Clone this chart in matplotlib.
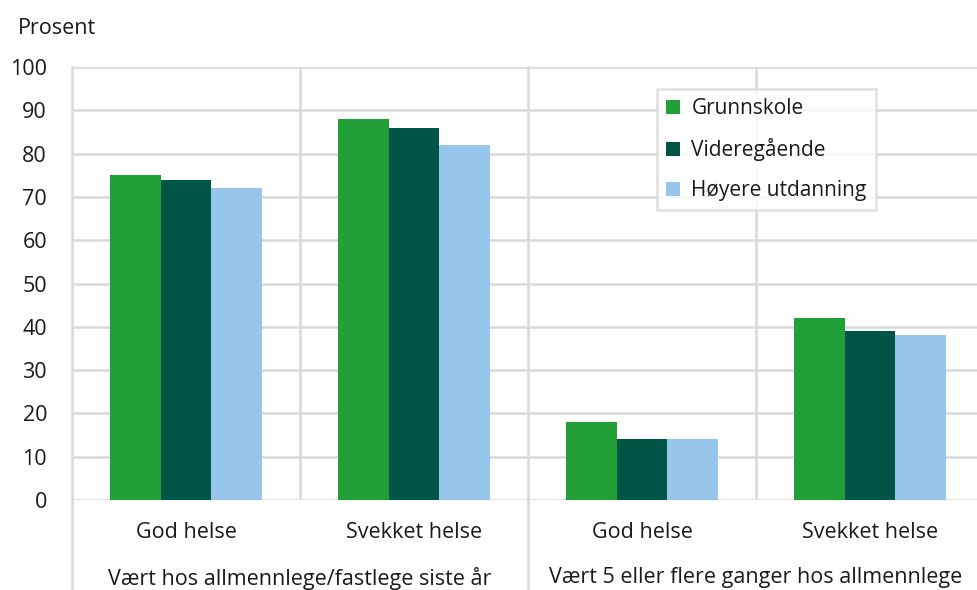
#!/usr/bin/env python3
"""
===============================================================================
SCRIPT: plot.py
Bruk av allmennlege etter helse og utdanning (prosent)
===============================================================================
Grouped bar chart with a two-level category axis.
OUTPUT: out.png (977 x 590 px)
===============================================================================
"""

# =============================================================================
# SECTION 1: IMPORT LIBRARIES
# =============================================================================

import numpy as np
import matplotlib.pyplot as plt
from matplotlib.patches import Patch
import matplotlib.transforms as mtransforms


# =============================================================================
# SECTION 2: DATA
# =============================================================================

categories = ['God helse', 'Svekket helse', 'God helse', 'Svekket helse']
outer_groups = ['Vært hos allmennlege/fastlege siste år',
                'Vært 5 eller flere ganger hos allmennlege']
series_names = ['Grunnskole', 'Videregående', 'Høyere utdanning']

grunnskole = [75, 88, 18, 42]
videregaende = [74, 86, 14, 39]
hoyere = [72, 82, 14, 38]

y_ticks = [0, 10, 20, 30, 40, 50, 60, 70, 80, 90, 100]


# =============================================================================
# SECTION 3: MAIN PROGRAM
# =============================================================================

def main():
    plt.rcParams['font.family'] = ['Open Sans', 'DejaVu Sans']

    colors = ['#21A038', '#005546', '#96C6EB']
    grid_color = '#d9d9d9'
    text_color = '#1a1a1a'
    font_size = 15.5

    W, H = 977, 590
    fig = plt.figure(figsize=(W / 100, H / 100), dpi=100)
    ax = fig.add_axes([72 / W, (H - 500) / H, 905 / W, 433 / H])

    # -------------------------------------------------------------------------
    # Bars
    # -------------------------------------------------------------------------
    x = np.arange(len(categories))
    bar_w = 0.222
    all_series = [grunnskole, videregaende, hoyere]
    for i, (vals, col) in enumerate(zip(all_series, colors)):
        ax.bar(x + (i - 1) * bar_w, vals, width=bar_w, color=col,
               zorder=3, label=series_names[i])

    ax.set_xlim(-0.5, 3.5 - 7 / 228)
    ax.set_ylim(0, 100)

    # -------------------------------------------------------------------------
    # Grid lines
    # -------------------------------------------------------------------------
    for yv in y_ticks:
        ax.axhline(yv, color=grid_color, lw=1.8, zorder=1)
    for xv in [0.5, 2.5]:
        ax.axvline(xv, color=grid_color, lw=1.8, zorder=1)

    # outer dividers run down through both label rows
    trans = mtransforms.blended_transform_factory(ax.transData, fig.transFigure)
    for xv in [-0.5, 1.5]:
        ax.plot([xv, xv], [0, 523 / H], color=grid_color, lw=1.8,
                transform=trans, clip_on=False, zorder=1)

    for sp in ax.spines.values():
        sp.set_visible(False)

    # -------------------------------------------------------------------------
    # Axes labels
    # -------------------------------------------------------------------------
    ax.set_yticks(y_ticks)
    ax.set_yticklabels([str(v) for v in y_ticks], fontsize=font_size,
                       color=text_color)
    ax.tick_params(axis='y', length=0, pad=18)
    ax.set_xticks(x)
    ax.set_xticklabels(categories, fontsize=font_size, color=text_color)
    ax.tick_params(axis='x', length=0, pad=16)

    for k, name in enumerate(outer_groups):
        ax.text(2 * k + 0.5, 12 / H, name, transform=trans, ha='center',
                va='center', fontsize=font_size, color=text_color)

    fig.text(18 / W, 1 - 28 / H, 'Prosent', ha='left', va='center',
             fontsize=font_size, color=text_color)

    # -------------------------------------------------------------------------
    # Legend
    # -------------------------------------------------------------------------
    handles = [Patch(facecolor=c, edgecolor='none') for c in colors]
    leg = ax.legend(handles, series_names, loc='upper left',
                    bbox_to_anchor=((657 - 72) / 905, (500 - 89) / 433),
                    fontsize=15, frameon=True, fancybox=False,
                    handlelength=0.65, handleheight=0.65, handletextpad=0.55,
                    labelspacing=0.9, borderpad=0.45, borderaxespad=0)
    leg.get_frame().set_edgecolor(grid_color)
    leg.get_frame().set_linewidth(1.8)
    for t in leg.get_texts():
        t.set_color(text_color)

    plt.savefig('out.png', dpi=100)


# =============================================================================
# SECTION 4: RUN THE PROGRAM
# =============================================================================

if __name__ == "__main__":
    main()
